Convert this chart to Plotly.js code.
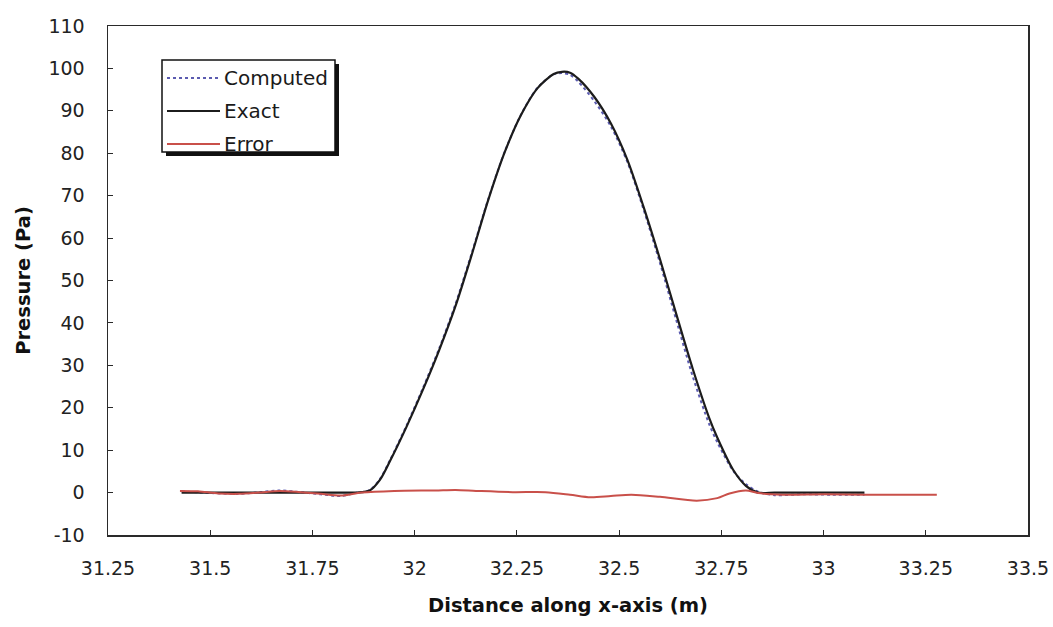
<!DOCTYPE html>
<html>
<head>
<meta charset="utf-8">
<script src="https://cdn.plot.ly/plotly-3.0.1.min.js"></script>
<style>
  html, body { margin: 0; padding: 0; background: #ffffff; }
  #chart { width: 1053px; height: 627px; }
</style>
</head>
<body>
<div id="chart"></div>
<script>
// Pressure pulse: exact solution, computed solution and their difference
const xPulse = [31.43, 31.50, 31.57, 31.62, 31.67, 31.72, 31.77, 31.82, 31.86, 31.89,
                31.915, 31.94, 31.98, 32.02, 32.06, 32.10, 32.14, 32.18, 32.22, 32.26,
                32.30, 32.34, 32.36, 32.38, 32.40, 32.44, 32.48, 32.52, 32.56, 32.60,
                32.64, 32.68, 32.72, 32.74, 32.78, 32.81, 32.84, 32.88, 32.95, 33.02,
                33.10];
const exactP = [0, 0, 0, 0, 0, 0, 0, 0, 0, 0.5,
                3.0, 7.5, 15.5, 24.2, 33.6, 44.0, 56.2, 69.0, 80.2, 89.0,
                95.3, 98.7, 99.2, 99.0, 97.6, 93.2, 87.0, 78.5, 67.3, 55.0,
                42.0, 29.2, 17.7, 13.0, 5.2, 1.6, 0, 0, 0, 0,
                0];
const computedP = [0.3, -0.1, -0.3, 0.1, 0.5, 0.1, -0.4, -0.8, 0.0, 0.6,
                   3.2, 7.7, 15.8, 24.6, 34.0, 44.5, 56.6, 69.2, 80.3, 89.1,
                   95.4, 98.6, 98.9, 98.5, 96.9, 92.2, 86.3, 78.0, 66.7, 54.1,
                   40.6, 27.4, 16.2, 11.9, 5.0, 2.0, 0.2, -0.6, -0.4, -0.5,
                   -0.5];

const xError = [31.426, 31.47, 31.52, 31.57, 31.62, 31.67, 31.72, 31.77, 31.82, 31.87,
                31.95, 32.05, 32.10, 32.15, 32.24, 32.32, 32.38, 32.43, 32.48, 32.53,
                32.60, 32.69, 32.74, 32.77, 32.81, 32.84, 32.90, 33.00, 33.10, 33.20,
                33.277];
const errorP = [0.4, 0.3, -0.2, -0.3, 0.0, 0.4, 0.1, -0.3, -0.7, 0.0,
                0.4, 0.5, 0.6, 0.4, 0.1, 0.1, -0.5, -1.1, -0.8, -0.5,
                -1.0, -1.9, -1.3, -0.2, 0.5, -0.1, -0.5, -0.4, -0.5, -0.5,
                -0.5];

const xTicks = [31.25, 31.5, 31.75, 32, 32.25, 32.5, 32.75, 33, 33.25, 33.5];
const xTickText = ['31.25', '31.5', '31.75', '32', '32.25', '32.5', '32.75', '33', '33.25', '33.5'];
const yTicks = [-10, 0, 10, 20, 30, 40, 50, 60, 70, 80, 90, 100, 110];
const yTickText = ['-10', '0', '10', '20', '30', '40', '50', '60', '70', '80', '90', '100', '110'];

const seriesNames = ['Computed', 'Exact', 'Error'];
const seriesColors = ['#5b5bb0', '#1c1c1c', '#c9504a'];

// plot-area geometry in pixels
const W = 1053, H = 627;
const M = { l: 108, r: 25, t: 26, b: 92 };
const PW = W - M.l - M.r, PH = H - M.t - M.b;
const px = v => (v - M.l) / PW;
const py = v => (H - M.b - v) / PH;

const font = '"DejaVu Sans", Arial, sans-serif';

const traces = [
  { x: xPulse, y: computedP, name: seriesNames[0], mode: 'lines',
    line: { color: seriesColors[0], width: 2, dash: 'dot', shape: 'spline', smoothing: 0.8 } },
  { x: xPulse, y: exactP, name: seriesNames[1], mode: 'lines',
    line: { color: seriesColors[1], width: 2.2, shape: 'spline', smoothing: 0.8 } },
  { x: xError, y: errorP, name: seriesNames[2], mode: 'lines',
    line: { color: seriesColors[2], width: 2, shape: 'spline', smoothing: 0.8 } }
];

// hand-built legend box with drop shadow
const box = { x0: 162, y0: 60, x1: 335, y1: 152 };
const rowY = [78, 111, 144];
const shapes = [
  { type: 'rect', xref: 'paper', yref: 'paper', layer: 'above',
    x0: px(box.x0 + 4), x1: px(box.x1 + 4), y0: py(box.y1 + 4), y1: py(box.y0 + 4),
    fillcolor: '#111111', line: { width: 0 } },
  { type: 'rect', xref: 'paper', yref: 'paper', layer: 'above',
    x0: px(box.x0), x1: px(box.x1), y0: py(box.y1), y1: py(box.y0),
    fillcolor: '#ffffff', line: { color: '#111111', width: 1.5 } }
];
const annotations = [];
seriesNames.forEach((name, i) => {
  shapes.push({ type: 'line', xref: 'paper', yref: 'paper', layer: 'above',
    x0: px(167), x1: px(220), y0: py(rowY[i]), y1: py(rowY[i]),
    line: { color: seriesColors[i], width: 2, dash: i === 0 ? 'dot' : 'solid' } });
  annotations.push({ xref: 'paper', yref: 'paper', x: px(222), y: py(rowY[i]),
    xanchor: 'left', yanchor: 'middle', showarrow: false, text: name,
    font: { family: font, size: 20, color: '#1a1a1a' } });
});

const axisCommon = {
  showgrid: false, zeroline: false, showline: true, mirror: true,
  linecolor: '#2a2a2a', linewidth: 1.5,
  ticks: 'inside', ticklen: 5, tickwidth: 1, tickcolor: '#2a2a2a',
  tickfont: { family: font, size: 19, color: '#222222' }
};

const layout = {
  width: W, height: H,
  margin: M,
  paper_bgcolor: '#ffffff', plot_bgcolor: '#ffffff',
  showlegend: false,
  xaxis: Object.assign({}, axisCommon, {
    range: [31.25, 33.5], tickmode: 'array', tickvals: xTicks, ticktext: xTickText,
    ticklabelstandoff: 16,
    title: { text: '<b>Distance along x-axis (m)</b>', standoff: 20,
             font: { family: font, size: 19.5, color: '#111111' } }
  }),
  yaxis: Object.assign({}, axisCommon, {
    range: [-10, 110], tickmode: 'array', tickvals: yTicks, ticktext: yTickText,
    ticklabelstandoff: 18,
    title: { text: '<b>Pressure (Pa)</b>', standoff: 12,
             font: { family: font, size: 19.5, color: '#111111' } }
  }),
  shapes: shapes,
  annotations: annotations
};

Plotly.newPlot('chart', traces, layout, { displayModeBar: false, staticPlot: true });
</script>
</body>
</html>
